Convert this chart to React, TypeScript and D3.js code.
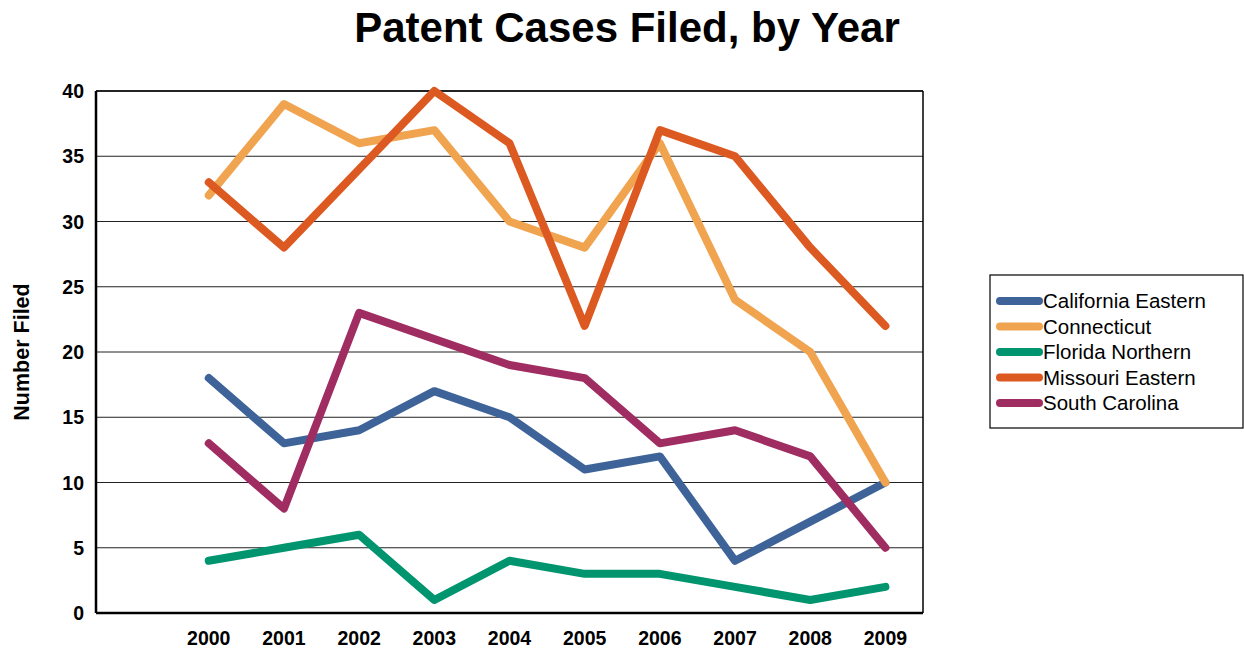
import React from "react";
import * as d3 from "d3";

const years = ["2000", "2001", "2002", "2003", "2004", "2005", "2006", "2007", "2008", "2009"];
const categories = ["", ...years];
const seriesNames = ["California Eastern", "Connecticut", "Florida Northern", "Missouri Eastern", "South Carolina"];
const californiaEastern = [18, 13, 14, 17, 15, 11, 12, 4, 7, 10];
const connecticut = [32, 39, 36, 37, 30, 28, 36, 24, 20, 10];
const floridaNorthern = [4, 5, 6, 1, 4, 3, 3, 2, 1, 2];
const missouriEastern = [33, 28, 34, 40, 36, 22, 37, 35, 28, 22];
const southCarolina = [13, 8, 23, 21, 19, 18, 13, 14, 12, 5];
const seriesValues = [californiaEastern, connecticut, floridaNorthern, missouriEastern, southCarolina];
const colors = ["#3D6399", "#F0A450", "#00946F", "#DC5A21", "#A02D62"];
const yTicks = [0, 5, 10, 15, 20, 25, 30, 35, 40];

export default function App() {
  const W = 1244, H = 651;
  const left = 96, right = 923, top = 91, bottom = 613;
  const x = d3.scaleBand().domain(categories).range([left, right]);
  const y = d3.scaleLinear().domain([0, 40]).range([bottom, top]);
  const line = d3.line<number>()
    .x((_, i) => (x(years[i]) as number) + x.bandwidth() / 2)
    .y((d) => y(d));
  const font = "'Liberation Sans', Arial, sans-serif";
  return (
    <svg width={W} height={H} style={{ position: "absolute", left: 0, top: 0 }} fontFamily={font}>
      <rect x={0} y={0} width={W} height={H} fill="#fff" />
      <text x={627} y={42} textAnchor="middle" fontSize={42} fontWeight="bold">Patent Cases Filed, by Year</text>
      {yTicks.map((t) => (
        <g key={t}>
          {t > 0 && <line x1={left} x2={right} y1={y(t)} y2={y(t)} stroke="#222" strokeWidth={1} />}
          <text x={84} y={y(t) + 7} textAnchor="end" fontSize={19.5} fontWeight="bold">{t}</text>
        </g>
      ))}
      <line x1={right} x2={right} y1={top} y2={bottom} stroke="#000" strokeWidth={1.5} />
      <line x1={left} x2={right} y1={top} y2={top} stroke="#000" strokeWidth={1.5} />
      <line x1={left} x2={left} y1={top} y2={bottom} stroke="#000" strokeWidth={2.5} />
      <line x1={left} x2={right} y1={bottom} y2={bottom} stroke="#000" strokeWidth={2.5} />
      {years.map((yr) => (
        <text key={yr} x={(x(yr) as number) + x.bandwidth() / 2} y={645} textAnchor="middle" fontSize={19.5} fontWeight="bold">{yr}</text>
      ))}
      <text transform={`translate(29,352) rotate(-90)`} textAnchor="middle" fontSize={21.5} fontWeight="bold">Number Filed</text>
      {seriesValues.map((vals, i) => (
        <path key={i} d={line(vals) || ""} fill="none" stroke={colors[i]} strokeWidth={8} strokeLinecap="round" strokeLinejoin="round" />
      ))}
      <rect x={990} y={275} width={253} height={153} fill="#fff" stroke="#000" strokeWidth={1.2} />
      {seriesNames.map((n, i) => (
        <g key={n}>
          <line x1={1000} x2={1039} y1={301 + i * 25.5} y2={301 + i * 25.5} stroke={colors[i]} strokeWidth={8} strokeLinecap="round" />
          <text x={1043} y={308 + i * 25.5} fontSize={20.5}>{n}</text>
        </g>
      ))}
    </svg>
  );
}
